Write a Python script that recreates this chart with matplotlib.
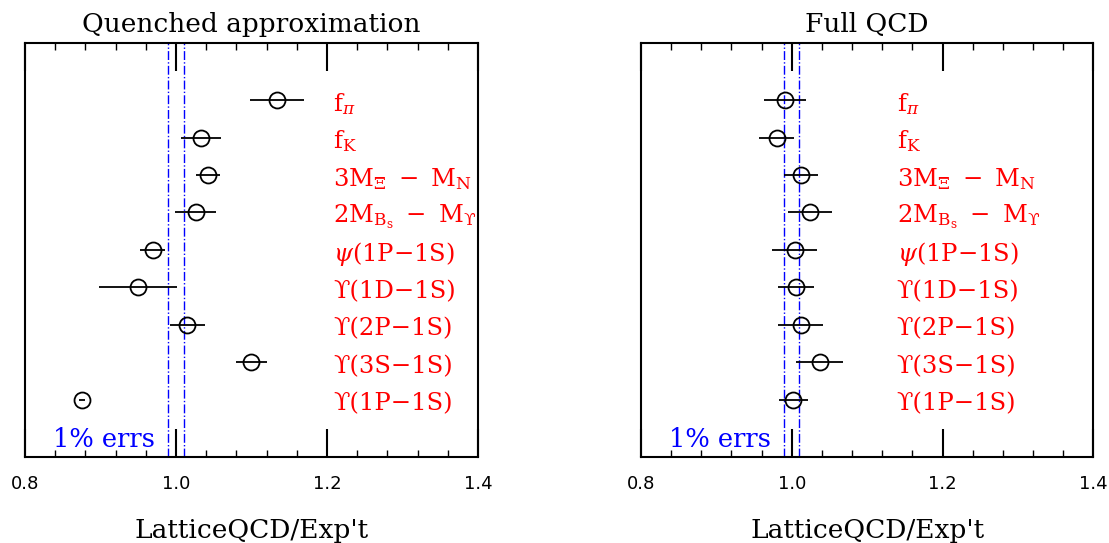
import matplotlib
matplotlib.use("Agg")
import matplotlib.pyplot as plt
from matplotlib.ticker import MultipleLocator

plt.rcParams['mathtext.fontset'] = 'dejavuserif'
plt.rcParams['font.family'] = ['DejaVu Serif']

labels = [r'$\mathrm{f}_\pi$', r'$\mathrm{f}_\mathrm{K}$',
          r'$\mathrm{3M}_\Xi\ -\ \mathrm{M}_\mathrm{N}$',
          r'$\mathrm{2M}_{\mathrm{B}_\mathrm{s}}\ -\ \mathrm{M}_{\mathrm{ϒ}}$',
          r'$\psi$(1P−1S)', 'ϒ(1D−1S)',
          'ϒ(2P−1S)', 'ϒ(3S−1S)',
          'ϒ(1P−1S)']

quenched_val = [1.134, 1.033, 1.042, 1.026, 0.969, 0.950, 1.015, 1.100, 0.876]
quenched_err = [0.036, 0.026, 0.016, 0.027, 0.017, 0.052, 0.023, 0.020, 0.004]
full_val = [0.991, 0.980, 1.012, 1.024, 1.004, 1.006, 1.012, 1.037, 1.002]
full_err = [0.028, 0.023, 0.023, 0.029, 0.030, 0.024, 0.030, 0.031, 0.019]

titles = ['Quenched approximation', 'Full QCD']
xticks = [0.8, 1.0, 1.2, 1.4]
xticklabels = ['0.8', '1.0', '1.2', '1.4']
band = [0.99, 1.01]

fig = plt.figure(figsize=(11.09, 5.43), dpi=100)
axL = fig.add_axes([0.0225, 0.1584, 0.4085, 0.7624])
axR = fig.add_axes([0.578, 0.1584, 0.408, 0.7624])

ys = list(range(len(labels), 0, -1))

for ax, vals, errs, title, lx in [(axL, quenched_val, quenched_err, titles[0], 0.68),
                                   (axR, full_val, full_err, titles[1], 0.565)]:
    ax.set_xlim(0.8, 1.4)
    ax.set_ylim(-0.52, 10.52)
    for b in band:
        ax.axvline(b, color='blue', ls='-.', lw=1.0, zorder=1)
    ax.errorbar(vals, ys, xerr=errs, fmt='o', mfc='none', mec='black', ms=11.5,
                mew=1.3, ecolor='black', elinewidth=1.3, capsize=0, zorder=3)
    xt = 0.8 + lx * 0.6
    for y, lab in zip(ys, labels):
        ax.text(xt, y - 0.1, lab, color='red', fontsize=17.5, va='center', ha='left')
    ax.text(0.8 + 0.062 * 0.6, -0.05, '1% errs', color='blue', fontsize=18.5,
            ha='left', va='center')
    ax.set_xticks(xticks)
    ax.set_xticklabels(xticklabels, family='DejaVu Sans', fontsize=13)
    ax.xaxis.set_minor_locator(MultipleLocator(0.04))
    ax.tick_params(axis='x', which='major', direction='in', length=20, width=1.5,
                   top=True, bottom=True, pad=13)
    ax.tick_params(axis='x', which='minor', direction='in', length=5, width=1.0,
                   top=True, bottom=True)
    ax.set_yticks([])
    for s in ax.spines.values():
        s.set_linewidth(1.5)
    ax.set_title(title, fontsize=19, pad=8)
    ax.set_xlabel("LatticeQCD/Exp't", fontsize=19, labelpad=18)

fig.savefig('out.png', dpi=100)
